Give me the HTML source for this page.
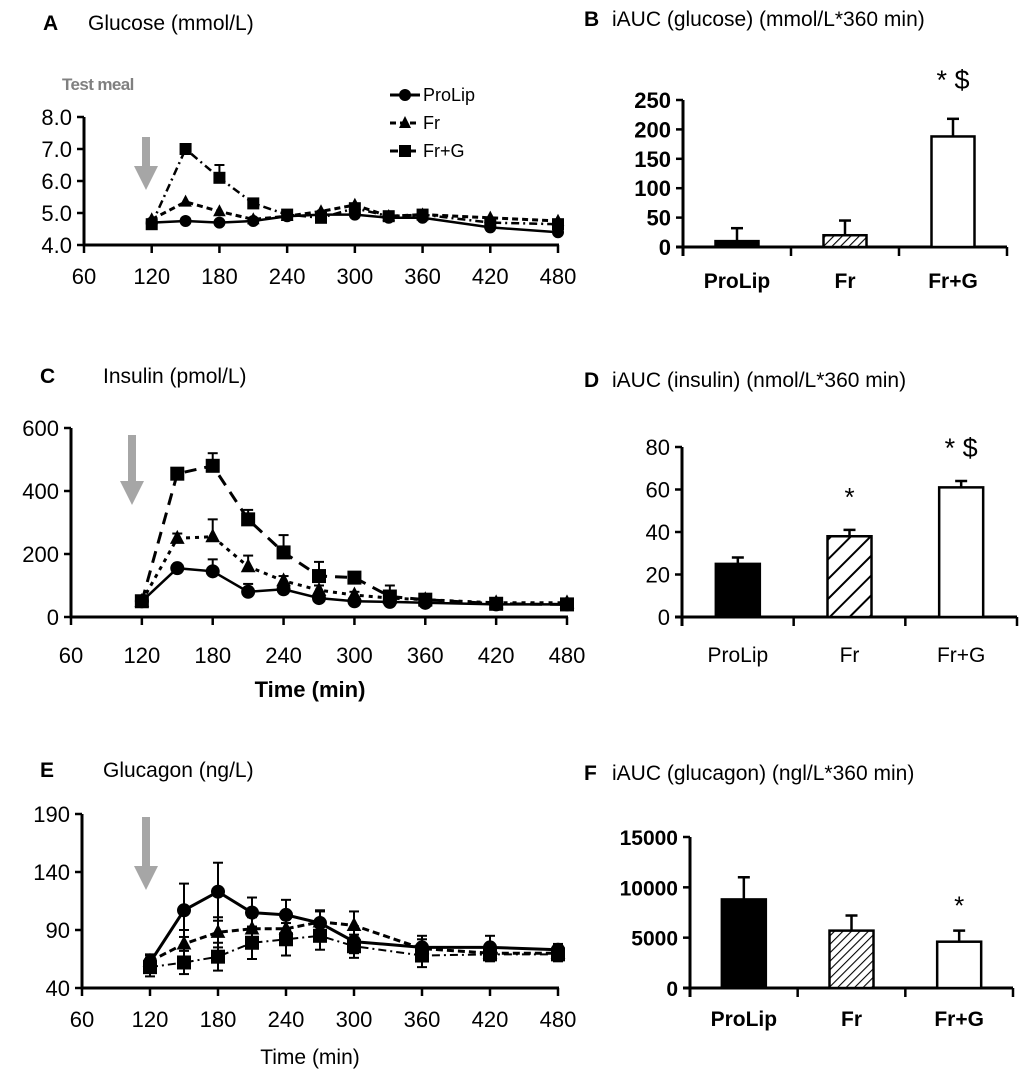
<!DOCTYPE html>
<html><head><meta charset="utf-8">
<style>
html,body{margin:0;padding:0;background:#fff;}
svg{display:block;font-family:"Liberation Sans",Arial,sans-serif;}
</style></head>
<body>
<svg id="fig" width="1024" height="1077" viewBox="0 0 1024 1077">
<defs>
<pattern id="hatch" patternUnits="userSpaceOnUse" width="6" height="6" patternTransform="rotate(45)">
<rect width="6" height="6" fill="#fff"/><line x1="0" y1="0" x2="0" y2="6" stroke="#000" stroke-width="2.2"/>
</pattern>
<pattern id="hatch2" patternUnits="userSpaceOnUse" width="14" height="14" patternTransform="rotate(45)">
<rect width="14" height="14" fill="#fff"/><line x1="0" y1="0" x2="0" y2="14" stroke="#000" stroke-width="4"/>
</pattern>
</defs>
<text x="43" y="30" font-size="21" font-weight="bold">A</text>
<text x="88" y="30" font-size="21">Glucose (mmol/L)</text>
<text x="584" y="26" font-size="21" font-weight="bold">B</text>
<text x="612" y="26" font-size="21">iAUC (glucose) (mmol/L*360 min)</text>
<text x="40" y="383" font-size="21" font-weight="bold">C</text>
<text x="103" y="383" font-size="21">Insulin (pmol/L)</text>
<text x="584" y="387" font-size="21" font-weight="bold">D</text>
<text x="612" y="387" font-size="21">iAUC (insulin) (nmol/L*360 min)</text>
<text x="40" y="777" font-size="21" font-weight="bold">E</text>
<text x="103" y="777" font-size="21">Glucagon (ng/L)</text>
<text x="584" y="780" font-size="21" font-weight="bold">F</text>
<text x="612" y="780" font-size="21">iAUC (glucagon) (ngl/L*360 min)</text>
<text x="62" y="90" font-size="17" font-weight="bold" fill="#808080" letter-spacing="-0.6">Test meal</text>
<g id="layer"></g>
</svg>
<script>
const timesA = [120,150,180,210,240,270,300,330,360,420,480];
const glucProLip = [4.7,4.75,4.7,4.75,4.9,4.95,4.95,4.85,4.85,4.55,4.4];
const glucFr     = [4.8,5.35,5.05,4.8,4.9,5.05,5.25,4.9,4.95,4.85,4.75];
const glucFrG    = [4.65,7.0,6.1,5.3,4.95,4.85,5.15,4.9,4.95,4.7,4.65];
const glucErrFrG = [0.05,0.05,0.4,0.1,0.05,0.05,0.1,0.05,0.05,0.05,0.05];
const glucTicksY = [4.0,5.0,6.0,7.0,8.0];
const insProLip = [50,155,145,80,88,60,50,48,45,40,40];
const insFr     = [50,250,255,160,115,85,70,60,55,45,45];
const insFrG    = [50,455,480,310,205,130,125,65,55,42,40];
const insErrProLip = [0,0,38,25,10,10,5,5,5,3,3];
const insErrFr  = [0,15,55,35,15,15,10,10,8,5,5];
const insErrFrG = [0,0,40,30,55,45,10,35,10,5,5];
const insTicksY = [0,200,400,600];
const timesE = [120,150,180,210,240,270,300,360,420,480];
const gcgProLip = [62,107,123,105,103,96,80,75,75,73];
const gcgFr     = [63,78,88,91,91,97,94,74,70,70];
const gcgFrG    = [58,62,67,79,82,85,76,68,69,69];
const gcgErrProLip = [6,23,25,13,13,10,10,10,10,5];
const gcgErrFr  = [6,12,13,10,10,10,12,8,6,5];
const gcgErrFrG = [8,10,12,14,14,12,10,10,6,6];
const gcgTicksY = [40,90,140,190];
const timeTicks = [60,120,180,240,300,360,420,480];
const groups = ["ProLip","Fr","Fr+G"];
const aucGluc = [10,20,188];
const aucGlucErr = [22,25,30];
const aucGlucTicks = [0,50,100,150,200,250];
const aucIns = [25,38,61];
const aucInsErr = [3,3,3];
const aucInsTicks = [0,20,40,60,80];
const aucGcg = [8800,5700,4600];
const aucGcgErr = [2200,1500,1100];
const aucGcgTicks = [0,5000,10000,15000];

const NS="http://www.w3.org/2000/svg";
const layer=document.getElementById('layer');
function mk(tag,attrs,parent){const e=document.createElementNS(NS,tag);for(const k in attrs)e.setAttribute(k,attrs[k]);(parent||layer).appendChild(e);return e;}

function lineChart(cfg){
  const g=mk('g',{});
  
  
  const sx=v=>cfg.x0+(v-60)/420*(cfg.x1-cfg.x0);
  const sy=v=>cfg.y0-(v-cfg.ymin)/(cfg.ymax-cfg.ymin)*(cfg.y0-cfg.y1);
  const ya=mk('line',{x1:sx(60),y1:cfg.y1,x2:sx(60),y2:cfg.y0+1.5,stroke:'#000','stroke-width':3},g);
  
  
  const xa=mk('line',{x1:sx(60)-1.5,y1:cfg.y0,x2:sx(480)+1,y2:cfg.y0,stroke:'#000','stroke-width':3},g);
  
  
  cfg.ticksY.forEach(t=>{
    mk('line',{x1:sx(60)-7,y1:sy(t),x2:sx(60),y2:sy(t),stroke:'#000','stroke-width':2.5},g);
    const tx=mk('text',{x:sx(60)-12,y:sy(t)+8,'font-size':22,'text-anchor':'end'},g);
    tx.textContent=cfg.fmtY(t);
    
    
  });
  timeTicks.forEach(t=>{
    mk('line',{x1:sx(t),y1:cfg.y0,x2:sx(t),y2:cfg.y0+8,stroke:'#000','stroke-width':2.5},g);
    const tx=mk('text',{x:sx(t),y:cfg.y0+cfg.lblOff,'font-size':22,'text-anchor':'middle'},g);
    tx.textContent=t;
    
    
  });
  cfg.series.forEach(s=>{
    const sg=mk('g',{},g);
    
    
    if(s.err) s.vals.forEach((v,i)=>{
      const e=s.err[i]; if(!e) return;
      const x=sx(s.times[i]);
      const lo=cfg.sym?v-e:v;
      mk('line',{x1:x,y1:sy(lo),x2:x,y2:sy(v+e),stroke:'#000','stroke-width':2},sg);
      mk('line',{x1:x-5,y1:sy(v+e),x2:x+5,y2:sy(v+e),stroke:'#000','stroke-width':2},sg);
      if(cfg.sym) mk('line',{x1:x-5,y1:sy(v-e),x2:x+5,y2:sy(v-e),stroke:'#000','stroke-width':2},sg);
    });
    const pts=s.vals.map((v,i)=>sx(s.times[i]).toFixed(1)+','+sy(v).toFixed(1)).join(' ');
    const pl=mk('polyline',{points:pts,fill:'none',stroke:'#000','stroke-width':s.w||2.5,'stroke-dasharray':s.dash||'none'},sg);
    
    
    s.vals.forEach((v,i)=>{
      const x=sx(s.times[i]),y=sy(v),r=cfg.mr;
      let m;
      if(s.marker==='circle') m=mk('circle',{cx:x,cy:y,r:r},sg);
      else if(s.marker==='tri') m=mk('polygon',{points:`${x},${y-r*1.2} ${x-r*1.05},${y+r*0.8} ${x+r*1.05},${y+r*0.8}`},sg);
      else m=mk('rect',{x:x-r,y:y-r,width:2*r,height:2*r},sg);
      m.setAttribute('fill','#000');
      
      
    });
  });
  const ax=cfg.arrow[0],ay1=cfg.arrow[1],ay2=cfg.arrow[2];
  const ar=mk('polygon',{points:`${ax-4},${ay1} ${ax+4},${ay1} ${ax+4},${ay2-24} ${ax+12},${ay2-24} ${ax},${ay2} ${ax-12},${ay2-24} ${ax-4},${ay2-24}`,fill:'#a6a6a6'},g);
  
  
}

lineChart({name:'glucose-chart',x0:84,x1:558,y0:245,y1:117,ymin:4,ymax:8,ticksY:glucTicksY,fmtY:t=>t.toFixed(1),lblOff:39,mr:6,arrow:[146,137,190],
 series:[
  {name:'glucose-prolip',times:timesA,vals:glucProLip,marker:'circle',w:2.5},
  {name:'glucose-fr',times:timesA,vals:glucFr,marker:'tri',dash:'6,4',w:3},
  {name:'glucose-frg',times:timesA,vals:glucFrG,err:glucErrFrG,marker:'sq',dash:'8,4,2,4',w:2.5}
 ]});
lineChart({name:'insulin-chart',x0:71,x1:567,y0:617,y1:428,ymin:0,ymax:600,ticksY:insTicksY,fmtY:t=>t,lblOff:46,mr:7,arrow:[132,435,505],
 series:[
  {name:'insulin-prolip',times:timesA,vals:insProLip,err:insErrProLip,marker:'circle',w:2.5},
  {name:'insulin-fr',times:timesA,vals:insFr,err:insErrFr,marker:'tri',dash:'4,5',w:3},
  {name:'insulin-frg',times:timesA,vals:insFrG,err:insErrFrG,marker:'sq',dash:'12,8',w:3}
 ]});
lineChart({name:'glucagon-chart',x0:82,x1:558,y0:988,y1:814,ymin:40,ymax:190,ticksY:gcgTicksY,fmtY:t=>t,lblOff:39,mr:7,sym:true,arrow:[146,817,890],
 series:[
  {name:'glucagon-prolip',times:timesE,vals:gcgProLip,err:gcgErrProLip,marker:'circle',w:3},
  {name:'glucagon-fr',times:timesE,vals:gcgFr,err:gcgErrFr,marker:'tri',dash:'7,4',w:3},
  {name:'glucagon-frg',times:timesE,vals:gcgFrG,err:gcgErrFrG,marker:'sq',dash:'8,4,2,4',w:2}
 ]});

function barChart(cfg){
  const g=mk('g',{});
  
  
  const sy=v=>cfg.y0-(v-0)/cfg.ymax*(cfg.y0-cfg.y1);
  const w=(cfg.x1-cfg.x0)/3;
  const ya=mk('line',{x1:cfg.x0,y1:cfg.y1,x2:cfg.x0,y2:cfg.y0+9,stroke:'#000','stroke-width':3},g);
  
  
  const xa=mk('line',{x1:cfg.x0-7,y1:cfg.y0,x2:cfg.x1,y2:cfg.y0,stroke:'#000','stroke-width':3},g);
  
  
  for(let i=1;i<=3;i++) mk('line',{x1:cfg.x0+w*i,y1:cfg.y0,x2:cfg.x0+w*i,y2:cfg.y0+9,stroke:'#000','stroke-width':2.5},g);
  cfg.ticks.forEach(t=>{
    mk('line',{x1:cfg.x0-7,y1:sy(t),x2:cfg.x0,y2:sy(t),stroke:'#000','stroke-width':2.5},g);
    const tx=mk('text',{x:cfg.x0-12,y:sy(t)+8,'font-size':cfg.fs,'text-anchor':'end','font-weight':cfg.bold?'bold':'normal'},g);
    tx.textContent=t;
    
    
  });
  const fills=['#000',cfg.hatch,'#fff'];
  cfg.vals.forEach((v,i)=>{
    const cx=cfg.x0+w*(i+0.5);
    const e=cfg.err[i];
    mk('line',{x1:cx,y1:sy(v),x2:cx,y2:sy(v+e),stroke:'#000','stroke-width':2.5},g);
    mk('line',{x1:cx-6,y1:sy(v+e),x2:cx+6,y2:sy(v+e),stroke:'#000','stroke-width':2.5},g);
    const r=mk('rect',{x:cx-cfg.bw/2,y:sy(v),width:cfg.bw,height:cfg.y0-sy(v),fill:fills[i],stroke:'#000','stroke-width':2.5},g);
    
    
    const tx=mk('text',{x:cx,y:cfg.y0+cfg.lblOff,'font-size':21,'text-anchor':'middle','font-weight':cfg.bold?'bold':'normal'},g);
    tx.textContent=groups[i];
    
    
    if(cfg.sig[i]){
      const s=mk('text',{x:cx,y:sy(v+e)-cfg.sigOff,'font-size':cfg.sig[i].length>1?27:26,'text-anchor':'middle'},g);
      s.textContent=cfg.sig[i];
      
      
    }
  });
}
barChart({name:'glucose-auc-chart',x0:683,x1:1007,y0:247,y1:100,ymax:250,ticks:aucGlucTicks,vals:aucGluc,err:aucGlucErr,bw:43,hatch:'url(#hatch)',bold:true,fs:22,lblOff:41,sig:['','','* $'],sigOff:30},);
barChart({name:'insulin-auc-chart',x0:682,x1:1017,y0:617,y1:447,ymax:80,ticks:aucInsTicks,vals:aucIns,err:aucInsErr,bw:44,hatch:'url(#hatch2)',bold:false,fs:22,lblOff:45,sig:['','*','* $'],sigOff:24});
barChart({name:'glucagon-auc-chart',x0:690,x1:1013,y0:988,y1:837,ymax:15000,ticks:aucGcgTicks,vals:aucGcg,err:aucGcgErr,bw:44,hatch:'url(#hatch)',bold:true,fs:21,lblOff:38,sig:['','','*'],sigOff:16});

const leg=[['ProLip','circle','none'],['Fr','tri','6,4'],['Fr+G','sq','8,4,2,4']];
leg.forEach((l,i)=>{
  const y=95+i*28;
  const g=mk('g',{});
  
  
  mk('line',{x1:390,y1:y,x2:420,y2:y,stroke:'#000','stroke-width':3,'stroke-dasharray':l[2]},g);
  const x=405;
  if(l[1]==='circle') mk('circle',{cx:x,cy:y,r:6},g);
  else if(l[1]==='tri') mk('polygon',{points:`${x},${y-7} ${x-6},${y+5} ${x+6},${y+5}`},g);
  else mk('rect',{x:x-6,y:y-6,width:12,height:12},g);
  const t=mk('text',{x:423,y:y+6,'font-size':18},g);
  t.textContent=l[0];
});
const t1=mk('text',{x:310,y:697,'font-size':22,'font-weight':'bold','text-anchor':'middle'});
t1.textContent='Time (min)';


const t2=mk('text',{x:310,y:1064,'font-size':21,'text-anchor':'middle'});
t2.textContent='Time (min)';


</script>
</body></html>
